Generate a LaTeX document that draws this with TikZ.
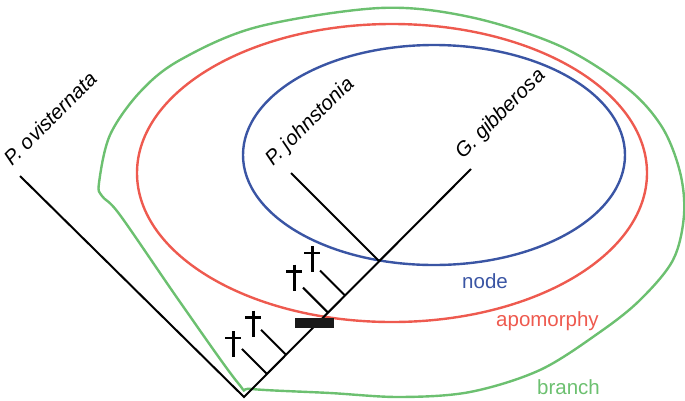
\documentclass[tikz,border=0pt]{standalone}
\usepackage{fontspec}
\setmainfont{Liberation Sans}
\usetikzlibrary{calc}
\definecolor{cblue}{HTML}{3A55A4}
\definecolor{cred}{HTML}{EE5A4F}
\definecolor{cgreen}{HTML}{6CC070}
\tikzset{
  tree/.style={line width=2pt, black},
  ring/.style={line width=2.4pt},
  taxon/.style={font=\fontsize{20.5}{23}\selectfont\itshape, rotate=45, anchor=base west, inner sep=0pt},
  lab/.style={font=\fontsize{20.5}{23}\selectfont, anchor=base west, inner sep=0pt},
  dagger/.pic={
    \draw[line width=3pt] (0,-13) -- (0,13);
    \draw[line width=2.6pt] (-8,-6) -- (8,-6);
  }
}
\begin{document}
\begin{tikzpicture}[x=1pt,y=-1pt]
\useasboundingbox (0,0) rectangle (685,400);
% circles
\draw[ring, cgreen] plot[smooth cycle, tension=0.55] coordinates {
 (99,183) (110,135) (140,92) (180,60) (257,27) (380,8) (470,17) (560,46)
 (627,88) (662,127) (680,172) (684,215) (673,260) (640,300) (600,332)
 (540,370) (470,392) (400,397) (330,393) (252,389) (238,383) (180,302)
 (120,215) (102,196)};
\draw[ring, cred] (392,173) ellipse [x radius=255, y radius=149];
\draw[ring, cblue] (434,155) ellipse [x radius=191, y radius=110];
% tree
\coordinate (root) at (244,397);
\coordinate (ov) at (20,176);
\coordinate (gg) at (471,169);
\coordinate (pj) at (291,173);
\coordinate (nd) at ($(root)!0.5956!(gg)$);
\draw[tree] (ov) -- (root) -- (gg);
\draw[tree] (pj) -- (nd);
\foreach \s/\n in {0.101/a,0.185/b,0.370/c,0.445/d}{
  \coordinate (b\n) at ($(root)!\s!(gg)$);
  \coordinate (t\n) at ($(b\n)+(-25,-25)$);
  \draw[tree] (b\n) -- (t\n);
}
% fossils
\pic at (233,344) {dagger};
\pic at (253,323.5) {dagger};
\pic at (294,277.5) {dagger};
\pic at (312,259) {dagger};
% apomorphy bar
\fill[black!90] (295,318) rectangle (334,328);
% labels
\node[taxon] (lov) at (12,167) {P. ovisternata};
\node[taxon] (lpj) at (273,167) {P. johnstonia};
\node[taxon] (lgg) at (463,160) {G. gibberosa};
\node[lab, text=cblue] (lnode) at (462,288) {node};
\node[lab, text=cred] (lapo) at (496,326) {apomorphy};
\node[lab, text=cgreen] (lbr) at (537,394) {branch};
\end{tikzpicture}
\end{document}
